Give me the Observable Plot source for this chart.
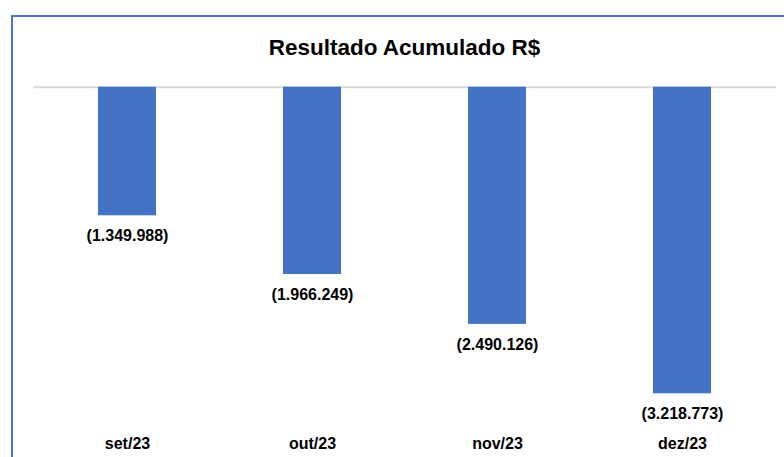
<!DOCTYPE html>
<html>
<head>
<meta charset="utf-8">
<script src="https://cdn.jsdelivr.net/npm/d3@7"></script>
<script src="https://cdn.jsdelivr.net/npm/@observablehq/plot@0.6"></script>
<style>
  html, body { margin: 0; padding: 0; background: #fff; overflow: hidden; }
  #wrap { position: relative; width: 784px; height: 457px; overflow: hidden; font-family: "Liberation Sans", Arial, sans-serif; }
  #border { position: absolute; left: 11px; top: 15px; width: 900px; height: 600px; border: 2px solid #4a76c6; box-sizing: border-box; }
  #title { position: relative; margin-left: 33px; width: 743px; height: 70px; box-sizing: border-box; padding-top: 36.5px; text-align: center; font-size: 22.5px; line-height: 22px; font-weight: bold; color: #000; }
  #chart { position: relative; }
</style>
</head>
<body>
<div id="wrap">
  <div id="border"></div>
  <div id="title">Resultado Acumulado R$</div>
  <div id="chart"></div>
</div>
<script>
const months = ["set/23", "out/23", "nov/23", "dez/23"];
const values = [-1349988, -1966249, -2490126, -3218773];

const data = months.map((m, i) => ({month: m, value: values[i]}));
const br = d3.formatLocale({decimal: ",", thousands: ".", grouping: [3], currency: ["R$", ""]});
const fmtNum = br.format(",d");
const fmt = v => v < 0 ? "(" + fmtNum(-v) + ")" : fmtNum(v);

const chart = Plot.plot({
  width: 784,
  height: 387,
  marginTop: 16.7,
  marginBottom: 36.9,
  marginLeft: 33,
  marginRight: 8,
  style: {fontFamily: "'Liberation Sans', Arial, sans-serif", background: "transparent", overflow: "visible"},
  x: {domain: months, paddingInner: 0.688, paddingOuter: 0.344, label: null},
  y: {domain: [-3500000, 0], axis: null},
  marks: [
    Plot.ruleY([0], {stroke: "#d9d9d9", strokeWidth: 2}),
    Plot.barY(data, {x: "month", y: "value", fill: "#4472c4", inset: 0}),
    Plot.text(data, {x: "month", y: "value", text: d => fmt(d.value), dy: 20, fontSize: 16, fontWeight: "bold", fill: "#000"}),
    Plot.axisX({anchor: "bottom", tickSize: 0, tickPadding: 17, fontSize: 16, fontWeight: "bold", color: "#000", label: null})
  ]
});
document.getElementById("chart").appendChild(chart);
</script>
</body>
</html>
